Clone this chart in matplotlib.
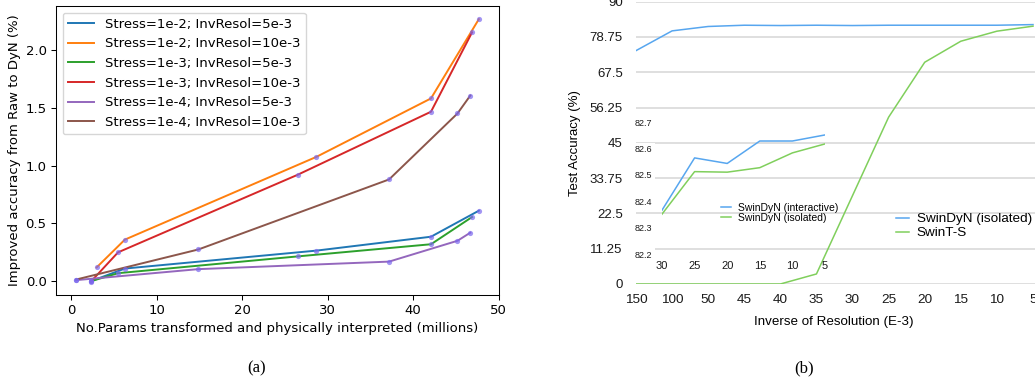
import matplotlib.pyplot as plt

# (a) improved accuracy vs number of params
blue_x = [2.3, 6.3, 28.7, 42.1, 47.7]
blue_y = [0.0, 0.11, 0.265, 0.385, 0.61]
orange_x = [3.0, 6.3, 28.7, 42.1, 47.7]
orange_y = [0.12, 0.36, 1.075, 1.58, 2.265]
green_x = [2.3, 5.5, 26.5, 42.1, 46.9]
green_y = [0.0, 0.07, 0.215, 0.32, 0.555]
red_x = [2.3, 5.5, 26.5, 42.1, 46.9]
red_y = [-0.005, 0.25, 0.92, 1.465, 2.15]
purple_x = [0.6, 14.9, 37.2, 45.2, 46.7]
purple_y = [0.01, 0.105, 0.17, 0.35, 0.42]
brown_x = [0.6, 14.9, 37.2, 45.2, 46.7]
brown_y = [0.015, 0.275, 0.88, 1.45, 1.605]
labels_a = ['Stress=1e-2; InvResol=5e-3', 'Stress=1e-2; InvResol=10e-3',
            'Stress=1e-3; InvResol=5e-3', 'Stress=1e-3; InvResol=10e-3',
            'Stress=1e-4; InvResol=5e-3', 'Stress=1e-4; InvResol=10e-3']

# (b) test accuracy vs inverse of resolution
res_ticks = ['150', '100', '50', '45', '40', '35', '30', '25', '20', '15', '10', '5']
dyn_isolated = [74.4, 80.7, 82.1, 82.5, 82.4, 82.5, 82.4, 82.5, 82.5, 82.5, 82.5, 82.7]
swin_ts = [0, 0, 0, 0, 0, 3.2, 28.2, 53.2, 70.7, 77.4, 80.6, 82.2]
acc_ticks = [0, 11.25, 22.5, 33.75, 45, 56.25, 67.5, 78.75, 90]
acc_labels = ['0', '11.25', '22.5', '33.75', '45', '56.25', '67.5', '78.75', '90']

inset_ticks = ['30', '25', '20', '15', '10', '5']
inset_interactive = [82.366, 82.564, 82.543, 82.628, 82.628, 82.651]
inset_isolated = [82.351, 82.512, 82.510, 82.527, 82.583, 82.617]
inset_yticks = [82.2, 82.3, 82.4, 82.5, 82.6, 82.7]

W, H = 1035, 377
SANS = 'Liberation Sans'
fig = plt.figure(figsize=(W / 100, H / 100), dpi=100)

# ---- (a)
ax = fig.add_axes([56 / W, 1 - 295 / H, 443 / W, 289 / H])
series = [(blue_x, blue_y), (orange_x, orange_y), (green_x, green_y),
          (red_x, red_y), (purple_x, purple_y), (brown_x, brown_y)]
cols = ['tab:blue', 'tab:orange', 'tab:green', 'tab:red', 'tab:purple', 'tab:brown']
for (xs, ys), c, lab in zip(series, cols, labels_a):
    ax.plot(xs, ys, color=c, lw=1.4, label=lab)
for xs, ys in series:
    ax.scatter(xs, ys, s=14, color='#7b68ee', alpha=0.7, zorder=3, linewidths=0)
ax.set_xticks([0, 10, 20, 30, 40, 50])
ax.set_yticks([0.0, 0.5, 1.0, 1.5, 2.0])
ax.tick_params(labelsize=9.5, length=3.3, width=0.75)
for s in ax.spines.values():
    s.set_linewidth(0.75)
ax.set_xlabel('No.Params transformed and physically interpreted (millions)', fontsize=9.5, labelpad=3)
ax.set_ylabel('Improved accuracy from Raw to DyN (%)', fontsize=9.5, labelpad=3)
ax.legend(loc='upper left', fontsize=9.5, handlelength=2.0)

# ---- (b) main
bx = fig.add_axes([636 / W, 1 - 284 / H, (W - 636) / W, (284 - 1.7) / H])
idx = list(range(len(res_ticks)))
bx.set_xlim(0, (W - 636) / ((1033 - 636) / 11))
bx.set_ylim(0, 90)
for s in bx.spines.values():
    s.set_visible(False)
bx.set_yticks(acc_ticks)
bx.set_yticklabels(acc_labels, fontfamily=SANS, fontsize=9.5)
bx.set_xticks(idx)
bx.set_xticklabels(res_ticks, fontfamily=SANS, fontsize=9.7)
bx.tick_params(length=0, colors='#1a1a1a')
bx.tick_params(axis='y', pad=9.5)
bx.tick_params(axis='x', pad=7.5)
bx.yaxis.grid(True, color='#d6d6d6', lw=1.1)
bx.set_axisbelow(True)
l1, = bx.plot(idx, dyn_isolated, color='#57a6ef', lw=1.1, label='SwinDyN (isolated)')
l2, = bx.plot(idx, swin_ts, color='#80cf5c', lw=1.1, label='SwinT-S')
bx.set_ylabel('Test Accuracy (%)', fontsize=9.5, fontfamily=SANS)
bx.yaxis.set_label_coords((581 - 636) / (W - 636), 0.5)
bx.set_xlabel('Inverse of Resolution (E-3)', fontsize=9.6, fontfamily=SANS)
bx.xaxis.set_label_coords((834 - 636) / (W - 636), -(316 - 284) / (284 - 1.7))
bx.legend(handles=[l1, l2], loc='upper left', bbox_to_anchor=(896 / W, 1 - 213 / H),
          bbox_transform=fig.transFigure, frameon=False,
          prop={'family': SANS, 'size': 9.7},
          handlelength=0.95, handletextpad=0.6, labelspacing=0.12, borderpad=0,
          borderaxespad=0)

# ---- (b) inset
ix = fig.add_axes([662 / W, 1 - 254 / H, (825 - 662) / W, (254 - 122) / H])
ix.patch.set_alpha(0)
for s in ix.spines.values():
    s.set_visible(False)
ix.set_xlim(0, 5)
ix.set_ylim(82.2, 82.7)
iidx = list(range(len(inset_ticks)))
ix.set_xticks(iidx)
ix.set_xticklabels(inset_ticks, fontsize=8, fontfamily=SANS)
ix.set_yticks(inset_yticks)
ix.set_yticklabels(['%.1f' % v for v in inset_yticks], fontsize=6.5,
                   fontfamily=SANS, ha='left')
ix.tick_params(length=0, colors='#1a1a1a')
ix.tick_params(axis='y', pad=27 * 0.72)
ix.tick_params(axis='x', pad=5)
for lbl in ix.get_yticklabels():
    lbl.set_bbox(dict(facecolor='white', edgecolor='none', pad=1.5))
m1, = ix.plot(iidx, inset_interactive, color='#57a6ef', lw=1.1, label='SwinDyN (interactive)')
m2, = ix.plot(iidx, inset_isolated, color='#80cf5c', lw=1.1, label='SwinDyN (isolated)')
ix.legend(handles=[m1, m2], loc='upper left', bbox_to_anchor=(721 / W, 1 - 203 / H),
          bbox_transform=fig.transFigure, frameon=False,
          prop={'family': SANS, 'size': 7.5},
          handlelength=1.0, handletextpad=0.6, labelspacing=0.0, borderpad=0,
          borderaxespad=0)

fig.text(257 / W, 1 - 368 / H, '(a)', ha='center', va='center', fontsize=12,
         fontfamily='Liberation Serif')
fig.text(804 / W, 1 - 368 / H, '(b)', ha='center', va='center', fontsize=12,
         fontfamily='Liberation Serif')

fig.savefig('out.png', dpi=100)
